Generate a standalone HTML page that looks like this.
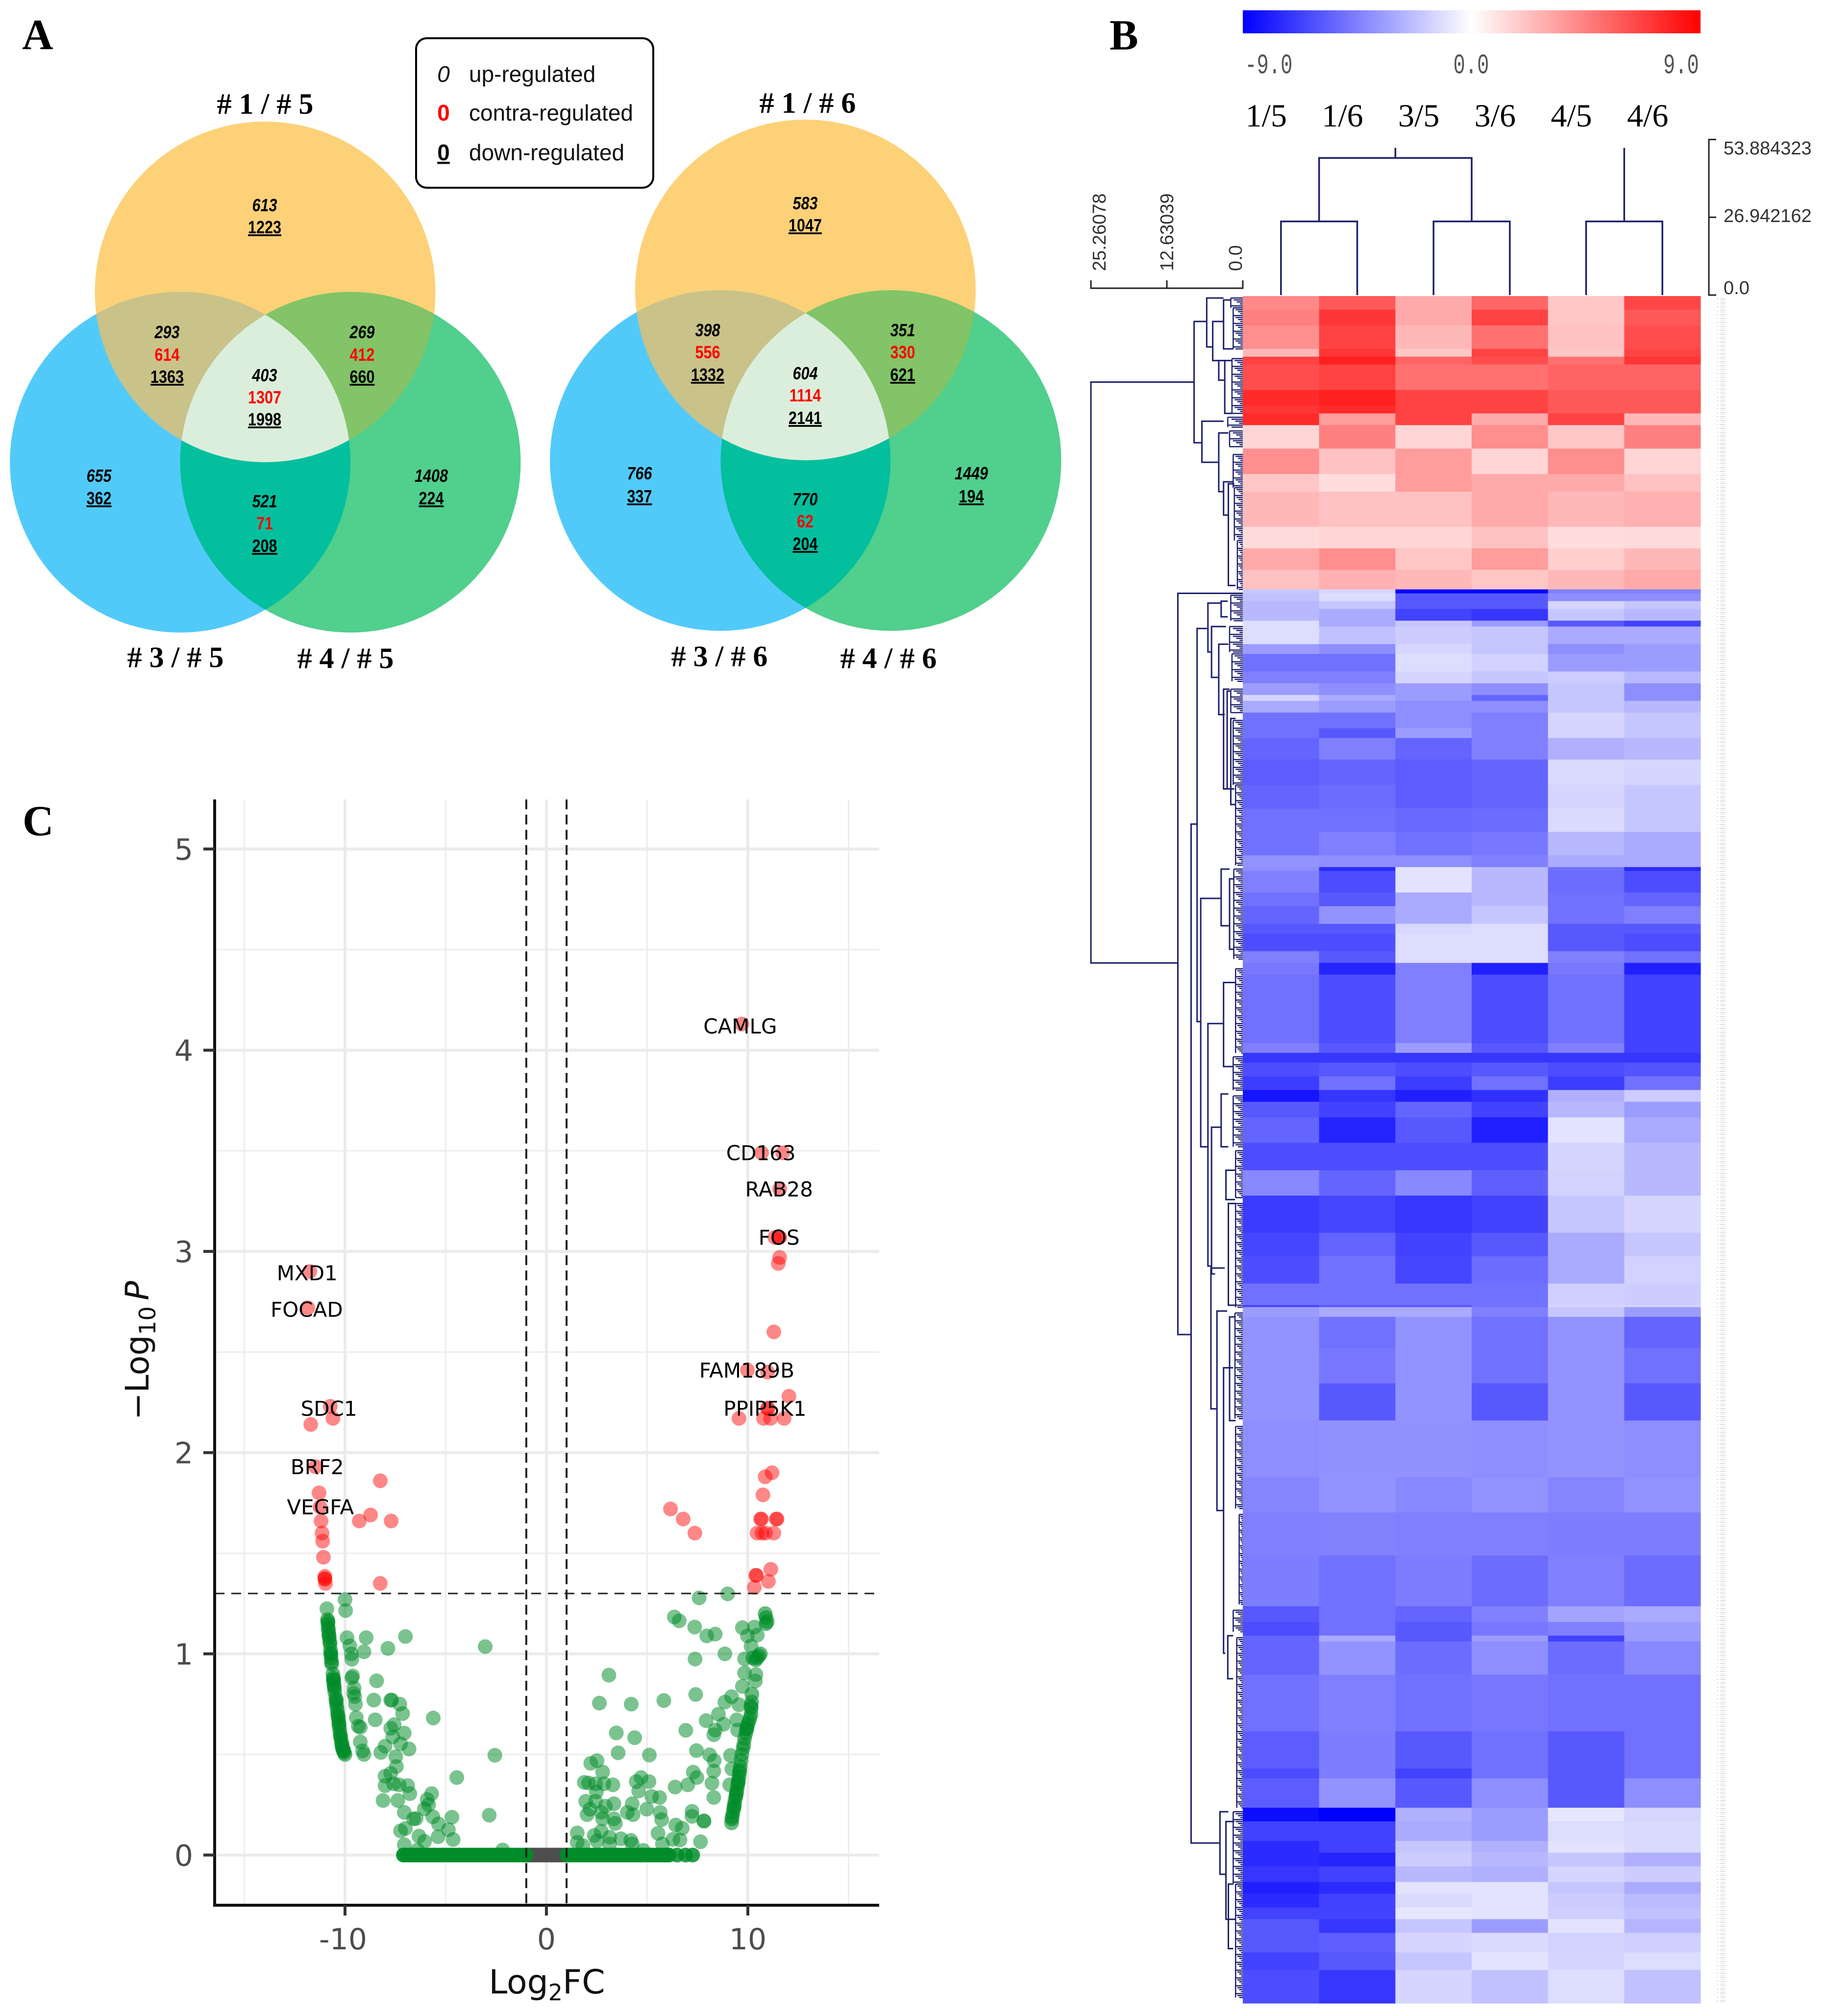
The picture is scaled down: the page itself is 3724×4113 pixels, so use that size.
<!DOCTYPE html>
<html lang="en">
<head>
<meta charset="utf-8">
<title>Venn diagrams, heatmap and volcano plot</title>
<style>
html,body{margin:0;padding:0;background:#fff}
svg{display:block}
.panel{font:700 88px "Liberation Serif",serif;fill:#000}
.vt{font:700 60px "Liberation Serif",serif;text-anchor:middle;fill:#000}
.n{font:400 36px "Liberation Sans",sans-serif;text-anchor:middle;fill:#000;transform-box:fill-box;transform-origin:center;transform:scaleX(.85)}
.u{font-style:italic;font-weight:700}
.c{fill:#f00;font-weight:700}
.d{text-decoration:underline;font-weight:700}
.lg{font:400 46px "Liberation Sans",sans-serif;fill:#111}
.lgu{font-style:italic}
.lgc{font-weight:700;fill:#f00}
.lgd{font-weight:700;text-decoration:underline}
.cb{font:400 44px "Liberation Mono",monospace;fill:#555;transform-box:fill-box;transform-origin:center;transform:scale(.92,1.3)}
.cl{font:400 66px "Liberation Serif",serif;text-anchor:middle;fill:#000}
.sc{font:400 38px "Liberation Sans",sans-serif;fill:#333}
.tk{font:400 60px "DejaVu Sans",sans-serif;fill:#4d4d4d}
.at{font:400 68px "DejaVu Sans",sans-serif;fill:#111}
.gl{font:400 42px "DejaVu Sans",sans-serif;fill:#000;text-anchor:middle}
</style>
</head>
<body>
<svg id="fig" xmlns="http://www.w3.org/2000/svg" width="3724" height="4113" viewBox="0 0 3724 4113">
<defs>
<clipPath id="c1t"><circle cx="541" cy="595.5" r="347.5"/></clipPath>
<clipPath id="c1l"><circle cx="367.6" cy="943" r="347.5"/></clipPath>
<clipPath id="c1r"><circle cx="715" cy="943" r="347.5"/></clipPath>
<clipPath id="c2t"><circle cx="1643.5" cy="591.5" r="347.5"/></clipPath>
<clipPath id="c2l"><circle cx="1469.6" cy="939.6" r="347.5"/></clipPath>
<clipPath id="c2r"><circle cx="1818" cy="939.6" r="347.5"/></clipPath>
<linearGradient id="cbg" x1="0" x2="1" y1="0" y2="0"><stop offset="0" stop-color="#00f"/><stop offset=".5" stop-color="#fff"/><stop offset="1" stop-color="#f00"/></linearGradient>
<pattern id="gp" width="18" height="8" patternUnits="userSpaceOnUse"><rect y="1" width="14" height="2" fill="#dcdcdc"/><rect y="5" width="10" height="2" fill="#ececec"/></pattern>
</defs>
<rect width="3724" height="4113" fill="#fff"/>

<text class="panel" x="45" y="100">A</text>
<text class="panel" x="2264" y="101">B</text>
<text class="panel" x="46" y="1704">C</text>

<g>
<circle cx="541" cy="595.5" r="347.5" fill="#fdd178"/>
<circle cx="367.6" cy="943" r="347.5" fill="#52caf9"/>
<circle cx="715" cy="943" r="347.5" fill="#50cf8d"/>
<g clip-path="url(#c1t)"><circle cx="367.6" cy="943" r="347.5" fill="#c9c289"/><circle cx="715" cy="943" r="347.5" fill="#82c467"/></g>
<g clip-path="url(#c1l)"><circle cx="715" cy="943" r="347.5" fill="#03bf9e"/></g>
<g clip-path="url(#c1t)"><g clip-path="url(#c1l)"><circle cx="715" cy="943" r="347.5" fill="#dbeedc"/></g></g>
<text class="vt" x="541" y="232"># 1 / # 5</text>
<text class="vt" x="358" y="1361"># 3 / # 5</text>
<text class="vt" x="705" y="1363"># 4 / # 5</text>
<text class="n u" x="540" y="431">613</text>
<text class="n d" x="540" y="476">1223</text>
<text class="n u" x="341" y="690">293</text>
<text class="n c" x="341" y="736">614</text>
<text class="n d" x="341" y="781">1363</text>
<text class="n u" x="739" y="690">269</text>
<text class="n c" x="739" y="736">412</text>
<text class="n d" x="739" y="781">660</text>
<text class="n u" x="540" y="778">403</text>
<text class="n c" x="540" y="823">1307</text>
<text class="n d" x="540" y="868">1998</text>
<text class="n u" x="202" y="983">655</text>
<text class="n d" x="202" y="1029">362</text>
<text class="n u" x="880" y="983">1408</text>
<text class="n d" x="880" y="1029">224</text>
<text class="n u" x="540" y="1035">521</text>
<text class="n c" x="540" y="1080">71</text>
<text class="n d" x="540" y="1126">208</text>
</g>

<g>
<circle cx="1643.5" cy="591.5" r="347.5" fill="#fdd178"/>
<circle cx="1469.6" cy="939.6" r="347.5" fill="#52caf9"/>
<circle cx="1818" cy="939.6" r="347.5" fill="#50cf8d"/>
<g clip-path="url(#c2t)"><circle cx="1469.6" cy="939.6" r="347.5" fill="#c9c289"/><circle cx="1818" cy="939.6" r="347.5" fill="#82c467"/></g>
<g clip-path="url(#c2l)"><circle cx="1818" cy="939.6" r="347.5" fill="#03bf9e"/></g>
<g clip-path="url(#c2t)"><g clip-path="url(#c2l)"><circle cx="1818" cy="939.6" r="347.5" fill="#dbeedc"/></g></g>
<text class="vt" x="1648" y="230"># 1 / # 6</text>
<text class="vt" x="1468" y="1359"># 3 / # 6</text>
<text class="vt" x="1813" y="1363"># 4 / # 6</text>
<text class="n u" x="1643" y="427">583</text>
<text class="n d" x="1643" y="472">1047</text>
<text class="n u" x="1444" y="686">398</text>
<text class="n c" x="1444" y="731">556</text>
<text class="n d" x="1444" y="777">1332</text>
<text class="n u" x="1842" y="686">351</text>
<text class="n c" x="1842" y="731">330</text>
<text class="n d" x="1842" y="777">621</text>
<text class="n u" x="1643" y="774">604</text>
<text class="n c" x="1643" y="819">1114</text>
<text class="n d" x="1643" y="865">2141</text>
<text class="n u" x="1305" y="978">766</text>
<text class="n d" x="1305" y="1025">337</text>
<text class="n u" x="1982" y="978">1449</text>
<text class="n d" x="1982" y="1025">194</text>
<text class="n u" x="1643" y="1031">770</text>
<text class="n c" x="1643" y="1076">62</text>
<text class="n d" x="1643" y="1122">204</text>
</g>

<g>
<rect x="849" y="78" width="484" height="305" rx="22" fill="#fff" stroke="#000" stroke-width="4"/>
<text class="lg lgu" x="905" y="167" text-anchor="middle">0</text>
<text class="lg" x="957" y="167">up-regulated</text>
<text class="lg lgc" x="905" y="246" text-anchor="middle">0</text>
<text class="lg" x="957" y="246">contra-regulated</text>
<text class="lg lgd" x="905" y="327" text-anchor="middle">0</text>
<text class="lg" x="957" y="327">down-regulated</text>
</g>

<g>
<rect x="2536" y="21" width="934" height="47" fill="url(#cbg)"/>
<text class="cb" x="2536" y="146">-9.0</text>
<text class="cb" x="3002" y="146" text-anchor="middle">0.0</text>
<text class="cb" x="3470" y="146" text-anchor="end">9.0</text>
</g>

<g id="heat"></g>
<g id="colLabels"></g>
<g id="topTree" fill="none" stroke="#1b1f6b" stroke-width="3.5"></g>
<g id="leftTree" fill="none" stroke="#1b1f6b" stroke-width="3"></g>
<g id="scales"></g>
<rect x="3503" y="606" width="18" height="3480" fill="url(#gp)"/>

<g id="volcano"></g>
</svg>

<script>
// ---------- Heatmap data ----------
const heatColumns = ['1/5','1/6','3/5','3/6','4/5','4/6'];
// each row: number of genes in the band, then value per column
const heatRows = [
[7,4.2,6,3,5.4,2,6.8],[8,4.5,7.5,3,7,2,6],[12,4,7,2.5,5,2.2,6.5],[4,2.5,7.5,2,7,2,7],
[4,7,8.5,5.5,6.5,5,7.5],[13,6.5,7,5,5,5.5,5.5],[8,8,8.5,7,7,6,6],[4,7.5,8,7,7,6,6],
[6,8,3.5,7,3,7,2.5],[12,1.5,4.5,1.5,4,2,4.5],[13,4,2.2,3.5,1.5,4,1.5],[9,2,1.2,3.5,3,3,2.2],
[18,2.5,2.2,2.2,3,2.5,2.8],[11,1.3,1.5,1.5,2.2,1.2,1.3],[11,3,4,2,3.5,1.7,2.5],[10,2.2,2.8,2.5,2,2.5,3],
[2,-2,-1.5,-9,-9,-4.5,-4.5],[4,-2.2,-1.2,-6,-6,-4,-4],[4,-2.5,-2,-6,-6,-1.5,-2],[6,-2.5,-3,-7,-7.5,-2,-2.5],
[3,-1.2,-3,-2,-3.5,-6,-7],[9,-1.2,-2.2,-1.8,-2,-3,-3],[5,-3.5,-4,-1.5,-2,-4,-3.5],[9,-5,-5,-1.2,-1.6,-3.5,-3.5],
[6,-4.5,-4.5,-1.5,-2,-1.8,-2.5],[6,-3.5,-4,-3.5,-4,-2,-4],[3,-1.5,-3,-3.5,-5.5,-2,-4],[6,-3,-3.5,-4,-4,-2,-2.5],
[8,-5,-5,-4,-4.5,-1.5,-2],[5,-5,-6,-3.5,-4.5,-1.5,-2],[11,-5.5,-4.5,-5.5,-4.5,-2.8,-2.5],[13,-5.8,-5.5,-5.8,-5.5,-1.3,-1.5],
[12,-5.5,-5.2,-5.8,-5.5,-1.5,-2],[12,-5,-5,-5.3,-5.2,-1.3,-2],[12,-5,-4.5,-5,-4.8,-2.5,-3],[6,-3.8,-4,-4,-4.5,-3,-3],
[2,-4,-8,-1,-2.5,-5,-8],[11,-4.5,-6.5,-1,-2.5,-5.2,-6.5],[7,-5,-6,-3,-2.5,-5,-5.5],[9,-5.5,-3.8,-3,-2,-5,-4.5],
[5,-6,-6,-1.4,-1.2,-6,-6],[9,-6.5,-6.5,-1.2,-1.2,-6,-6.5],[6,-4.5,-6,-1.2,-1.2,-4.5,-5],[6,-4.8,-8.3,-4.5,-8.5,-4.8,-8.5],
[35,-5,-6.5,-4.5,-6.5,-5,-7],[5,-4.5,-6,-3.5,-6,-4.5,-7],[5,-7.5,-7.5,-7.5,-7.5,-7.5,-7.5],[7,-6.5,-6,-6.5,-6,-6.5,-6.2],
[7,-7.2,-5,-7.2,-5,-7.2,-5],[6,-8.7,-7.5,-8.5,-7.8,-2.8,-1.8],[8,-6,-7,-5.5,-7,-2.5,-3.5],[13,-5.5,-8.3,-6,-8.5,-1,-3],
[14,-6.5,-6.5,-6.5,-6.5,-1.5,-2.5],[13,-4.2,-5.5,-4.2,-5.7,-1.6,-2.5],[19,-7.3,-6.8,-7.5,-7,-2,-1.5],[12,-6.8,-5.5,-7,-6,-3,-2],
[14,-6.5,-5,-6.8,-5.2,-3,-1.6],[11,-5,-5,-5,-5,-1.7,-1.8],[1,-7,-6,-6,-5,-1.5,-1.5],
[5,-3.5,-3,-3,-4.5,-2,-3.5],[16,-3.8,-5,-3.8,-5,-3.8,-5.5],[18,-3.8,-4.8,-3.8,-5,-3.8,-5],[19,-3.8,-6,-3.8,-6,-3.8,-6],
[29,-4,-3.9,-3.9,-4,-3.8,-4],[18,-4.3,-3.8,-4.2,-3.8,-4.3,-3.8],[22,-4.5,-4.4,-4.5,-4.5,-4.6,-4.6],[26,-4.6,-5,-4.6,-5.2,-4.5,-5.2],
[8,-6,-5,-5.5,-4.5,-3.2,-3],[7,-6.5,-5,-6,-4.8,-4.5,-3.5],[3,-5.5,-3,-6,-3.5,-7,-3.5],[17,-5.5,-3.8,-5.2,-4,-5.2,-4.2],
[29,-5,-4.5,-5,-4.8,-5,-5],[19,-5.8,-4.6,-6,-5,-6,-5],[5,-6.5,-4.6,-7,-5,-6,-5],[15,-5.8,-3.8,-6,-4,-6,-4],
[7,-8.8,-9,-2.8,-3.5,-.9,-1.5],[10,-7,-7,-3,-3.5,-1.2,-1.3],[6,-8,-7,-2,-2.8,-1,-1.3],[7,-8,-8.3,-1.8,-2.5,-2,-2.8],
[8,-7.5,-7,-2.5,-2.8,-1.5,-1.8],[6,-8.5,-8,-1,-1,-2,-3],[7,-8,-7,-1.3,-1,-1.8,-2.4],[6,-7,-7,-.9,-1,-1.7,-2.2],
[7,-6,-7.5,-2,-3.5,-1,-2.6],[10,-6,-5.7,-1.5,-1.3,-1.6,-1.7],[9,-7,-6,-2,-1,-1.5,-1.2],[17,-6.5,-7.5,-1.5,-2.2,-1.2,-2.2]
];
// column dendrogram: [left column, right column, height]
const colMerges = [[0,1,25.5],[2,3,25.5],[4,5,25.5]];
const colUpperMerge = 47.5;
const colStemTop = 51;
// row dendrogram nodes: [height, rowA, childHeightA, rowB, childHeightB]
const rowNodes = [
[25.26,44,8.1,341,10.8],[8.1,13,6,75,6.8],[6,1,3.2,26,5],[5,13,3.2,33,4],[4,33,3,43,3],[3.2,2,2,27,1.6],
[6.8,64,3.2,85,4],[4,70,2.4,100,3.2],[3.2,95,1.6,112,2.4],[2.4,96,1.4,148,1.2],[3,33,1.8,60,1.8],
[10.8,152,0,531,8.6],[8.6,270,7.6,791,3.8],[7.6,170,5.8,371,7],[5.8,157,3.6,182,5.2],[3.6,156,2.5,164,2.5],
[5.2,169,2.8,195,4],[4,178,2.4,214,3],[3.2,201,2.2,252,2.6],[2.6,202,2,252,1.4],[2,216,1.2,260,1.2],
[7,308,3.6,435,5.8],[3.6,293,2.2,322,2.2],[2.2,298,1.4,334,1.4],[3.2,351,1.2,394,1.6],[5.8,372,3.2,496,5.2],
[5.2,425,3.6,500,4.6],[3.6,408,2.4,435,2.4],[2.8,447,1.3,462,1.3],[2.4,464,1.2,516,1.2],
[5.3,497,3,569,4.3],[4.3,519,2.6,621,3.2],[3.2,548,1.6,694,2.9],[2.2,522,1.2,575,1.2],[2.5,685,1.6,707,1.6],
[3.8,775,2.4,807,2.8],[2.4,812,1.6,845,1.6],[2.8,780,1.4,830,1.2]
];
// leaf combs: [first row, last row, stem height]
const rowCombs = [
[1,6,2],[6,27,1.6],[32,60,1.8],[62,67,2.5],[69,77,2.2],[81,98,1.6],[98,125,1.4],[125,150,.9],
[153,166,2],[169,182,2.2],[183,197,1.8],[201,213,2],[217,250,1.6],[250,291,1.2],[293,339,1.5],[344,387,1.2],
[389,406,1.6],[409,435,1.6],[437,461,1.2],[464,517,1.2],[520,574,1.3],[578,620,1.2],[623,669,.6],[672,683,1.6],
[686,773,1],[775,812,1.6],[812,870,1.2]
];
const colScaleTicks = ['53.884323','26.942162','0.0'];
const colScaleValues = [53.884323,26.942162,0];
const rowScaleTicks = ['25.26078','12.63039','0.0'];
const rowScaleValues = [25.26078,12.63039,0];

// ---------- Volcano data ----------
const xTicks = [-10,0,10];
const xMinor = [-15,-5,5,15];
const yTicks = [0,1,2,3,4,5];
const yMinor = [.5,1.5,2.5,3.5,4.5];
const pThreshold = 1.3;
const fcThresholds = [-1,1];
const neutralFC = [-.98,-.9,-.8,-.7,-.6,-.5,-.4,-.3,-.2,-.1,0,.1,.2,.3,.4,.5,.6,.7,.8,.9,.98];
const baselineLeftFC = [-7.1,-6.95,-6.8,-6.7,-6.55,-6.4,-6.3,-6.15,-6,-5.9,-5.75,-5.6,-5.5,-5.35,-5.2,-5.1,-4.95,-4.8,-4.7,-4.55,-4.4,-4.3,-4.15,-4,-3.9,-3.75,-3.6,-3.5,-3.35,-3.2,-3.1,-2.95,-2.8,-2.7,-2.55,-2.4,-2.3,-2.15,-2,-1.9,-1.75,-1.6,-1.5,-1.35,-1.2,-1.1,-1];
const baselineRightFC = [1,1.1,1.2,1.35,1.5,1.6,1.75,1.9,2,2.15,2.3,2.4,2.55,2.7,2.8,2.95,3.1,3.2,3.35,3.5,3.6,3.75,3.9,4,4.15,4.3,4.4,4.55,4.7,4.8,4.95,5.1,5.2,5.35,5.5,5.6,5.75,5.9,6,6.1,6.49,6.91,7.26];
const nsLeftDense = [[-10.87,1.17],[-10.85,1.15],[-10.84,1.13],[-10.82,1.12],[-10.8,1.1],[-10.78,1.08],[-10.76,1.06],[-10.74,1.05],[-10.72,1.02],[-10.71,1],[-10.69,.98],[-10.67,.96],[-10.66,.95],[-10.6,.9],[-10.58,.88],[-10.56,.87],[-10.55,.85],[-10.53,.83],[-10.51,.81],[-10.46,.78],[-10.44,.76],[-10.41,.74],[-10.38,.72],[-10.36,.7],[-10.33,.68],[-10.31,.66],[-10.29,.64],[-10.26,.62],[-10.24,.6],[-10.21,.58],[-10.18,.56],[-10.15,.54],[-10.12,.53],[-10.09,.52],[-10.05,.51],[-10,.5],[-10.84,1.16],[-10.8,1.09],[-10.7,1],[-10.58,.87],[-10.54,.84],[-10.43,.77],[-10.35,.69],[-10.3,.65],[-10.22,.59],[-10.14,.55],[-10.06,.52]];
const nsLeftScatter = [[-10.9,1.224],[-10,1.27],[-9.97,1.215],[-9.9,1.08],[-8.95,1.08],[-7,1.086],[-3.04,1.036],[-9.06,1.01],[-9.76,1.04],[-7.87,1.027],[-9.69,1],[-9.66,.973],[-9.62,.89],[-9.66,.88],[-9.55,.83],[-9.57,.804],[-9.52,.787],[-9.48,.75],[-8.43,.866],[-8.57,.77],[-7.73,.77],[-7.68,.77],[-7.28,.75],[-7.14,.703],[-9.44,.683],[-9.34,.64],[-9.24,.635],[-8.5,.672],[-5.62,.681],[-7.56,.648],[-7.73,.63],[-7.06,.606],[-7.63,.587],[-7.24,.553],[-8.01,.541],[-8.22,.51],[-6.82,.527],[-9.24,.562],[-9.13,.518],[-9.06,.5],[-2.56,.496],[-7.48,.489],[-7.45,.44],[-8.01,.392],[-7.73,.406],[-4.45,.385],[-8.01,.345],[-7.59,.354],[-7.31,.349],[-6.89,.345],[-6.78,.305],[-5.7,.305],[-8.11,.271],[-7.38,.271],[-5.92,.276],[-5.85,.25],[-6.06,.229],[-7.06,.212],[-6.47,.181],[-6.6,.18],[-5.64,.19],[-4.69,.188],[-2.84,.198],[-5.36,.155],[-7.24,.12],[-7,.132],[-4.87,.126],[-6.33,.094],[-6.05,.068],[-5.38,.091],[-4.63,.077],[-7.06,.051],[-6.4,.025],[-2.17,.025],[-7.1,0]];
const nsRightDense = [[10.86,1.2],[10.9,1.18],[10.96,1.16],[10.9,1.15],[10.62,1],[10.55,.99],[10.45,.98],[10.4,.97],[10.25,.98],[10.2,.8],[10.19,.76],[10.17,.73],[10.16,.7],[10.1,.68],[10.04,.66],[9.98,.645],[9.94,.625],[9.9,.605],[9.84,.58],[9.8,.55],[9.76,.53],[9.7,.5],[9.66,.47],[9.62,.44],[9.58,.41],[9.56,.39],[9.53,.37],[9.5,.35],[9.47,.33],[9.44,.31],[9.4,.29],[9.36,.27],[9.33,.25],[9.3,.23],[9.26,.21],[9.21,.18],[9.19,.16],[10.15,.74],[9.95,.63],[9.6,.42],[9.52,.36],[9.42,.3],[9.32,.24],[9.22,.19]];
const nsRightScatter = [[9,1.298],[7.58,1.278],[6.35,1.183],[6.59,1.164],[7.36,1.133],[7.96,1.089],[8.38,1.098],[9.73,1.13],[9.98,1.089],[10.33,1.133],[10.47,1.093],[8.86,1],[7.38,.974],[10.16,1.038],[3.1,.894],[2.63,.755],[4.21,.75],[5.83,.768],[7.41,.798],[9.84,.975],[9.84,.905],[10.4,.897],[10.37,.865],[9.73,.838],[9.19,.787],[8.86,.76],[9.56,.747],[8.54,.7],[7.93,.668],[8.8,.65],[9.45,.672],[6.92,.62],[9.49,.621],[8.38,.621],[8.31,.598],[3.47,.607],[4.38,.583],[3.56,.508],[5.11,.497],[7.45,.519],[8.1,.498],[9.14,.495],[8.33,.469],[8.31,.417],[7.29,.412],[7.47,.385],[9.21,.428],[8.22,.357],[7.02,.349],[6.39,.338],[9.1,.349],[8.31,.286],[7.23,.217],[7.23,.192],[7.82,.168],[7.82,.17],[6.42,.149],[6.74,.133],[5.54,.108],[7.65,.066],[6.28,.078],[6.63,.075],[5.76,.055],[2.2,.456],[2.51,.469],[2.79,.413],[1.88,.361],[2.09,.358],[2.44,.354],[2.48,.314],[3.3,.349],[2.86,.354],[4.46,.365],[4.7,.385],[5.09,.365],[4.58,.318],[5.62,.286],[5.23,.291],[1.95,.267],[2.44,.267],[2.93,.243],[3.35,.255],[2.16,.228],[2.02,.201],[2.72,.212],[2.79,.18],[3.35,.18],[3.42,.157],[4.26,.255],[4.02,.212],[4.3,.201],[4.98,.228],[5.65,.212],[5.72,.176],[1.53,.11],[2.37,.097],[2.72,.118],[3.14,.089],[3.7,.081],[4.19,.073],[2.51,.07],[1.53,.063],[1.81,.047],[3.14,.055],[4.26,.055],[4.81,.023]];
const sigLeft = [[-11.75,2.9],[-11.85,2.72],[-10.73,2.23],[-10.6,2.17],[-11.7,2.14],[-11.46,1.93],[-8.25,1.86],[-11.29,1.8],[-11.24,1.73],[-8.73,1.69],[-9.29,1.66],[-7.71,1.66],[-11.19,1.66],[-11.14,1.6],[-11.11,1.56],[-11.07,1.48],[-11,1.385],[-11,1.375],[-11,1.37],[-10.97,1.35],[-8.25,1.35]];
const sigRight = [[9.7,4.13],[10.68,3.49],[11.73,3.49],[11.58,3.31],[11.34,3.07],[11.58,3.07],[11.55,3.07],[11.58,2.97],[11.51,2.94],[11.29,2.6],[9.98,2.41],[10.98,2.4],[12.04,2.28],[10.98,2.22],[11,2.22],[9.56,2.17],[10.78,2.17],[11.13,2.17],[11.8,2.17],[11.2,1.9],[10.86,1.88],[10.75,1.79],[6.16,1.72],[6.79,1.67],[7.37,1.6],[10.63,1.67],[10.68,1.67],[11.41,1.67],[11.45,1.67],[10.46,1.6],[10.7,1.6],[10.88,1.6],[11.29,1.6],[11.14,1.42],[10.39,1.39],[10.43,1.39],[11.02,1.36],[10.32,1.33]];
const geneNames = ['CAMLG','CD163','RAB28','FOS','FAM189B','PPIP5K1','MXD1','FOCAD','SDC1','BRF2','VEGFA'];
const geneFC = [9.62,10.65,11.55,11.55,9.95,10.85,-11.88,-11.9,-10.8,-11.38,-11.22];
const genePval = [4.12,3.49,3.31,3.07,2.41,2.22,2.893,2.712,2.22,1.93,1.73];

// ---------- helpers ----------
const NS = 'http://www.w3.org/2000/svg';
function make(parent, tag, attrs, text){
  const el = document.createElementNS(NS, tag);
  for (const k in attrs) el.setAttribute(k, attrs[k]);
  if (text !== undefined) el.textContent = text;
  parent.appendChild(el);
  return el;
}

// ---------- heatmap ----------
const HX = 2536, HW = 934, HY = 604, HH = 3483;
const colW = HW / heatColumns.length;
const totalGenes = heatRows.reduce((s,r) => s + r[0], 0);
const colX = i => HX + i * colW;
const rowY = r => HY + r * HH / totalGenes;
function heatColor(v){
  const a = Math.min(1, Math.abs(v) / 9);
  const t = a <= .6 ? a : a <= .95 ? .6 + (a - .6) * .8 : .88 + (a - .95) * 2.4;
  const c = Math.round(255 * (1 - t));
  return v < 0 ? `rgb(${c},${c},255)` : `rgb(255,${c},${c})`;
}
const heat = document.getElementById('heat');
let cum = 0;
heatRows.forEach((row, ri) => {
  for (let c = 0; c < 6; c++){
    const cell = make(heat, 'rect', {x: colX(c), y: rowY(cum), width: colW + .5, height: rowY(cum + row[0]) - rowY(cum) + .5, fill: heatColor(row[c + 1])});
    
    
  }
  cum += row[0];
});

const colLabels = document.getElementById('colLabels');
heatColumns.forEach((name, i) => {
  const t = make(colLabels, 'text', {class: 'cl', x: colX(i) + colW / 2 - 30, y: 258}, name);
  
  
});

// ---------- column dendrogram ----------
const topTree = document.getElementById('topTree');
const colCx = i => colX(i) + colW / 2;
const colH = h => 602 - h * 5.89;
function tline(parent, d, name){
  const p = make(parent, 'path', {d});
  
  
  return p;
}
colMerges.forEach(m => {
  tline(topTree, `M${colCx(m[0])} ${colH(0)}V${colH(m[2])}H${colCx(m[1])}V${colH(0)}`, 'column-branch');
});
const nodeX = m => (colCx(m[0]) + colCx(m[1])) / 2;
tline(topTree, `M${nodeX(colMerges[0])} ${colH(colMerges[0][2])}V${colH(colUpperMerge)}H${nodeX(colMerges[1])}V${colH(colMerges[1][2])}`, 'column-branch');
tline(topTree, `M${(nodeX(colMerges[0]) + nodeX(colMerges[1])) / 2} ${colH(colUpperMerge)}V${colH(colStemTop)}`, 'column-root-stem');
tline(topTree, `M${nodeX(colMerges[2])} ${colH(colMerges[2][2])}V${colH(colStemTop)}`, 'column-root-stem');

// ---------- row dendrogram ----------
const leftTree = document.getElementById('leftTree');
const treeX = h => 2536 - h * 12.27;
const rowAt = r => 604 + r * 3.99;
rowNodes.forEach(n => {
  tline(leftTree, `M${treeX(n[2])} ${rowAt(n[1])}H${treeX(n[0])}V${rowAt(n[3])}H${treeX(n[4])}`, 'row-branch');
});
rowCombs.forEach(c => {
  let d = `M${treeX(c[2])} ${rowAt(c[0])}V${rowAt(c[1])}`;
  for (let r = c[0]; r <= c[1]; r++){
    d += `M${treeX(c[2] * (1 - ((r - c[0]) % 4) * .25))} ${rowAt(r)}H2536`;
  }
  const p = tline(leftTree, d, 'row-leaf-comb');
  p.setAttribute('stroke-width', '2.5');
});

// ---------- dendrogram scales ----------
const scales = document.getElementById('scales');
const topAxis = make(scales, 'path', {d: `M3502 ${colH(colScaleValues[0])}H3487V${colH(0)}H3502M3487 ${colH(colScaleValues[1])}H3502`, fill: 'none', stroke: '#222', 'stroke-width': 3});


colScaleTicks.forEach((lab, i) => {
  const t = make(scales, 'text', {class: 'sc', x: 3517, y: [315, 453, 600][i]}, lab);
  
  
});
const leftAxis = make(scales, 'path', {d: `M${treeX(rowScaleValues[0])} 572V588H${treeX(0)}V572M${treeX(rowScaleValues[1])} 588V572`, fill: 'none', stroke: '#222', 'stroke-width': 3});


rowScaleTicks.forEach((lab, i) => {
  const x = treeX(rowScaleValues[i]) + (i === 2 ? -2 : i === 1 ? 13 : 30);
  const t = make(scales, 'text', {class: 'sc', transform: `translate(${x},553) rotate(-90)`}, lab);
  
  
});

// ---------- volcano ----------
const V = document.getElementById('volcano');
const xS = v => 1115 + v * 41.1;
const yS = v => 3784.6 - v * 410.5;
const PL = 438, PR = 1794, PT = 1631, PB = 3887;
function line(x1, y1, x2, y2, stroke, w, name, dash){
  const l = make(V, 'line', {x1, y1, x2, y2, stroke, 'stroke-width': w});
  if (dash) l.setAttribute('stroke-dasharray', dash);
  
  
  return l;
}
xMinor.forEach(v => line(xS(v), PT, xS(v), PB, '#ededed', 3, 'x-grid-minor'));
yMinor.forEach(v => line(PL + 4, yS(v), PR, yS(v), '#ededed', 3, 'y-grid-minor'));
xTicks.forEach(v => line(xS(v), PT, xS(v), PB, '#ebebeb', 6, 'x-grid-major'));
yTicks.forEach(v => line(PL + 4, yS(v), PR, yS(v), '#ebebeb', 6, 'y-grid-major'));

function dots(list, fill, op, name, r){
  list.forEach(p => {
    const c = make(V, 'circle', {cx: xS(p[0]), cy: yS(p[1]), r: r || 15, fill, 'fill-opacity': op});
    
    
  });
}
dots(neutralFC.map(v => [v, 0]), '#4d4d4d', .8, 'point-neutral');
const GREEN = '#008c28';
dots(baselineLeftFC.map(v => [v, 0]), GREEN, .6, 'point-not-significant');
dots(baselineLeftFC.map(v => [v, 0]), GREEN, .6, 'point-not-significant');
dots(baselineRightFC.map(v => [v, 0]), GREEN, .6, 'point-not-significant');
dots(baselineRightFC.map(v => [v, 0]), GREEN, .6, 'point-not-significant');
dots(nsLeftScatter, GREEN, .52, 'point-not-significant');
dots(nsRightScatter, GREEN, .52, 'point-not-significant');
dots(nsLeftDense, GREEN, .6, 'point-not-significant');
dots(nsRightDense, GREEN, .6, 'point-not-significant');
dots(sigLeft, '#ff0000', .47, 'point-significant');
dots(sigRight, '#ff0000', .47, 'point-significant');

line(PL, yS(pThreshold), PR, yS(pThreshold), '#222', 3, 'p-threshold-line', '20 14');
fcThresholds.forEach(v => line(xS(v), PT, xS(v), PB, '#222', 4, 'fc-threshold-line', '20 11'));

line(PL, PT, PL, PB + 3, '#111', 6, 'y-axis-line');
line(PL - 3, PB, PR, PB, '#111', 6, 'x-axis-line');
yTicks.forEach(v => {
  line(415, yS(v), PL, yS(v), '#333', 6, 'y-tick');
  const t = make(V, 'text', {class: 'tk', x: 375, y: yS(v) + 22, 'text-anchor': 'middle'}, v);
  
  
});
xTicks.forEach(v => {
  line(xS(v), PB, xS(v), PB + 21, '#333', 6, 'x-tick');
  const t = make(V, 'text', {class: 'tk', x: xS(v) - (v < 0 ? 4 : 0), y: 3977, 'text-anchor': 'middle'}, v);
  
  
});
geneNames.forEach((g, i) => {
  const t = make(V, 'text', {class: 'gl', x: xS(geneFC[i]), y: yS(genePval[i]) + 15}, g);
  
  
});

const xTitle = make(V, 'text', {class: 'at', x: 1116, y: 4067, 'text-anchor': 'middle'});


make(xTitle, 'tspan', {}, 'Log');
make(xTitle, 'tspan', {dy: 14, 'font-size': 46}, '2');
make(xTitle, 'tspan', {dy: -14}, 'FC');
const yTitle = make(V, 'text', {class: 'at', transform: 'translate(303,2755) rotate(-90)', 'text-anchor': 'middle'});


make(yTitle, 'tspan', {'font-size': 66}, '\u2212Log');
make(yTitle, 'tspan', {dy: 14, 'font-size': 46}, '10');
make(yTitle, 'tspan', {dy: -14, 'font-style': 'italic', dx: 12, 'font-size': 66}, 'P');
</script>
</body>
</html>
